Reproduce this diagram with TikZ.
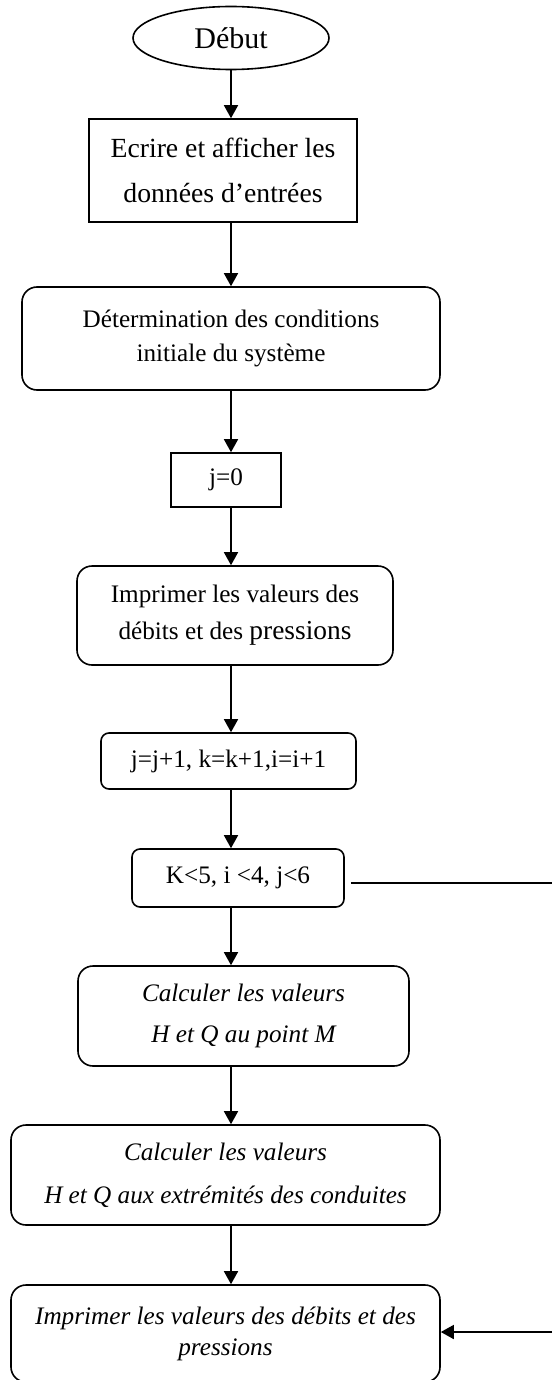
\documentclass[tikz,border=0pt]{standalone}
\usepackage{fontspec}
\setmainfont{Liberation Serif}
\usetikzlibrary{arrows.meta,shapes.geometric}
\begin{document}
\begin{tikzpicture}[x=0.5pt,y=-0.5pt,
  box/.style={draw, line width=0.8pt, inner sep=0pt, align=center, font=\fontsize{12.6}{17}\selectfont},
  rbox/.style={box, rounded corners=7.5pt},
  sbox/.style={box, rounded corners=4pt},
  conn/.style={-{Triangle[length=6.5pt,width=7pt]}, line width=0.8pt},
  plain/.style={line width=0.8pt}
]
\clip (0,0) rectangle (552,1380);
\coordinate (ax) at (231,0);
\coordinate (loopA) at (552,883);
\coordinate (loopB) at (552,1332);

\node[box, ellipse, minimum width=98pt, minimum height=31.5pt, font=\fontsize{15}{18}\selectfont] (n0) at (231,38) {Début};
\node[box, minimum width=134pt, minimum height=51.5pt, font=\fontsize{13.85}{22.5}\selectfont] (n1) at (223,170.5) {Ecrire et afficher les\\données d’entrées};
\node[rbox, minimum width=209pt, minimum height=51.5pt] (n2) at (231,338.5) {Détermination des conditions\\initiale du système};
\node[box, minimum width=55pt, minimum height=27pt] (n3) at (226,480) {j=0};
\node[rbox, minimum width=158pt, minimum height=49.5pt, font=\fontsize{12.6}{18.5}\selectfont] (n4) at (235,615.5) {Imprimer les valeurs des\\débits et des {\fontsize{13.7}{18.5}\selectfont pressions}};
\node[sbox, minimum width=127.5pt, minimum height=28pt] (n5) at (228.5,761) {j=j+1, k=k+1,i=i+1};
\node[sbox, minimum width=106pt, minimum height=29pt] (n6) at (238,878) {K<5, i <4, j<6};
\node[rbox, minimum width=165.5pt, minimum height=50pt, font=\fontsize{12.6}{20.5}\selectfont\itshape] (n7) at (243.5,1016) {Calculer les valeurs\\H et Q au point M};
\node[rbox, minimum width=214.5pt, minimum height=50pt, font=\fontsize{12.6}{21.5}\selectfont\itshape] (n8) at (225.5,1175) {Calculer les valeurs\\H et Q aux extrémités des conduites};
\node[rbox, minimum width=214.5pt, minimum height=48.5pt, font=\fontsize{12.6}{15.5}\selectfont\itshape] (n9) at (225.5,1333.5) {Imprimer les valeurs des débits et des\\pressions};

\draw[conn] (n0.south -| ax) -- (n1.north -| ax);
\draw[conn] (n1.south -| ax) -- (n2.north -| ax);
\draw[conn] (n2.south -| ax) -- (n3.north -| ax);
\draw[conn] (n3.south -| ax) -- (n4.north -| ax);
\draw[conn] (n4.south -| ax) -- (n5.north -| ax);
\draw[conn] (n5.south -| ax) -- (n6.north -| ax);
\draw[conn] (n6.south -| ax) -- (n7.north -| ax);
\draw[conn] (n7.south -| ax) -- (n8.north -| ax);
\draw[conn] (n8.south -| ax) -- (n9.north -| ax);
\draw[plain, shorten <=3pt] (n6.east |- loopA) -- (loopA);
\draw[conn] (loopB) -- (loopB -| n9.east);
\end{tikzpicture}
\end{document}
